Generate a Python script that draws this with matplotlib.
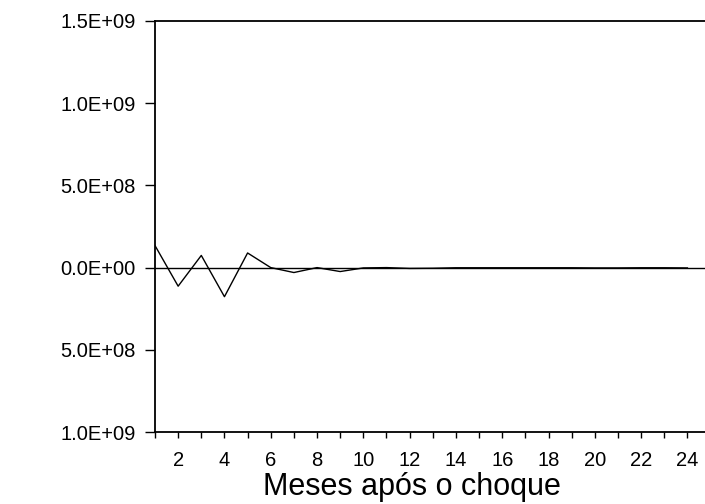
import numpy as np
import matplotlib
matplotlib.use('Agg')
import matplotlib.pyplot as plt

plt.rcParams['font.family'] = ['Liberation Sans', 'DejaVu Sans']

# resposta ao impulso, meses 1..24
meses = np.arange(1, 25)
resposta = [1.34e8, -1.13e8, 0.74e8, -1.77e8, 0.89e8, 0.0, -0.30e8, 0.0,
            -0.24e8, -0.02e8, 0.0, -0.05e8, -0.04e8, -0.01e8, -0.01e8, -0.01e8,
            -0.01e8, -0.01e8, -0.01e8, -0.02e8, -0.02e8, -0.01e8, -0.01e8, -0.02e8]

yticks = [-1.0e9, -5.0e8, 0.0, 5.0e8, 1.0e9, 1.5e9]
ylabels = ['1.0E+09', '5.0E+08', '0.0E+00', '5.0E+08', '1.0E+09', '1.5E+09']
xticks_lab = list(range(2, 25, 2))

fig = plt.figure(figsize=(7.05, 5.04), dpi=100)
ax = fig.add_axes([155 / 705, 1 - 432 / 504, 1 - 155 / 705, (432 - 21) / 504])

ax.axhline(0, color='black', lw=1.0)
ax.plot(meses, resposta, color='black', lw=1.0)

ax.set_xlim(1, 24.76)
ax.set_ylim(-1.0e9, 1.5e9)
ax.set_yticks(yticks)
ax.set_yticklabels(ylabels)
ax.set_xticks(xticks_lab)
ax.set_xticks(meses, minor=True)
ax.set_xticklabels([str(v) for v in xticks_lab])

ax.tick_params(axis='y', direction='out', length=7, width=1, labelsize=14.5, pad=7)
ax.tick_params(axis='x', which='both', direction='out', length=4, width=1,
               labelsize=14.5, pad=10)

ax.spines['right'].set_visible(False)
for s in ['left', 'top', 'bottom']:
    ax.spines[s].set_linewidth(1.3)

ax.set_xlabel('Meses após o choque', fontsize=22, labelpad=0)
ax.xaxis.set_label_coords((412 - 155) / 550, -0.098)

fig.savefig('out.png', dpi=100, facecolor='white')
